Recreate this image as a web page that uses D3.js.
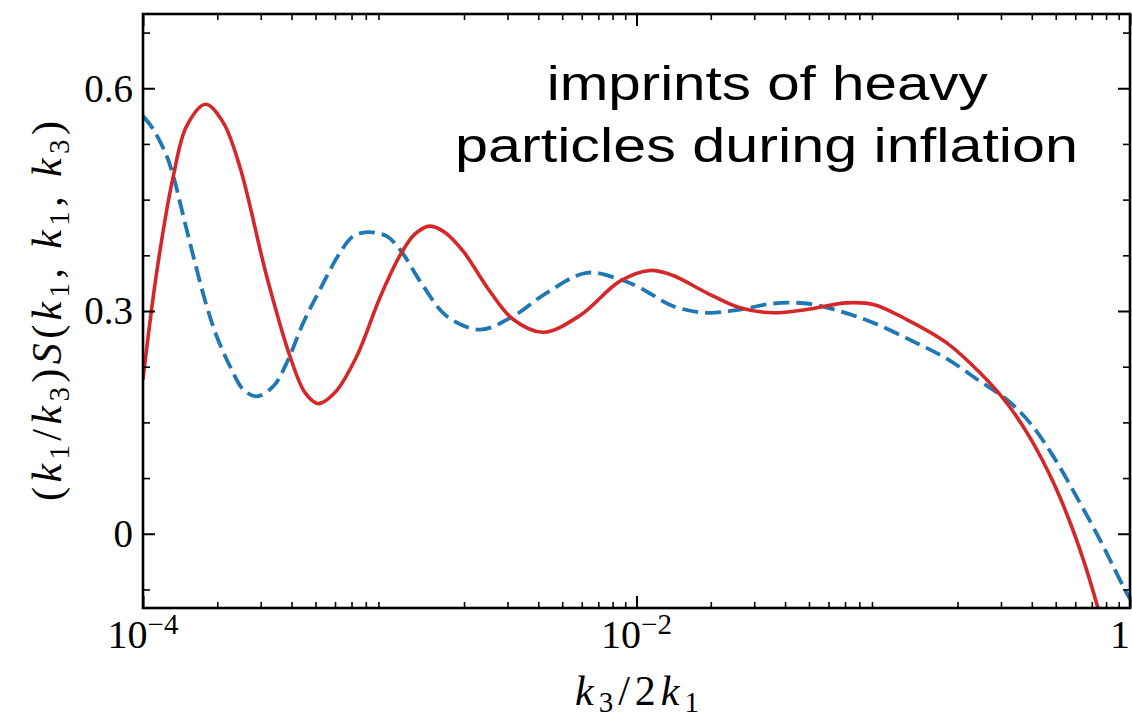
<!DOCTYPE html>
<html>
<head>
<meta charset="utf-8">
<script src="https://cdn.jsdelivr.net/npm/d3@7"></script>
<style>
  html, body { margin: 0; padding: 0; background: #ffffff; }
  svg { display: block; }
</style>
</head>
<body>
<svg id="chart" width="1132" height="717"></svg>
<script>
// ---- data ----
const redX = [1.00e-4, 1.136e-4, 1.327e-4, 1.503e-4, 1.795e-4, 2.115e-4, 2.472e-4, 3.171e-4, 3.942e-4, 4.535e-4,
  5.133e-4, 6.000e-4, 7.346e-4, 9.13e-4, 1.100e-3, 1.266e-3, 1.456e-3, 1.675e-3, 1.987e-3, 2.549e-3,
  3.168e-3, 4.192e-3, 5.902e-3, 8.574e-3, 1.134e-2, 1.406e-2, 1.925e-2, 2.627e-2, 3.584e-2, 4.894e-2,
  7.111e-2, 9.114e-2, 0.1245, 0.1808, 0.2467, 0.3165, 0.3932, 0.4889, 0.5712, 0.6467, 0.7328, 0.7920];
const redY = [0.2076, 0.3519, 0.4817, 0.5491, 0.5784, 0.5537, 0.4935, 0.3469, 0.2390, 0.1901,
  0.1753, 0.1901, 0.2390, 0.3182, 0.3748, 0.4038, 0.4143, 0.4058, 0.3802, 0.3263,
  0.2885, 0.2714, 0.2940, 0.3402, 0.3546, 0.3479, 0.3245, 0.3043, 0.2976, 0.3020,
  0.3110, 0.3088, 0.2885, 0.2571, 0.2167, 0.1761, 0.1294, 0.0692, 0.0155, -0.0349, -0.0938, -0.1348];

const blueX = [1.00e-4, 1.101e-4, 1.248e-4, 1.327e-4, 1.457e-4, 1.599e-4, 1.812e-4, 1.989e-4, 2.252e-4, 2.550e-4,
  2.889e-4, 3.374e-4, 3.823e-4, 4.463e-4, 5.216e-4, 6.286e-4, 7.116e-4, 8.187e-4, 9.719e-4, 1.100e-3,
  1.368e-3, 1.702e-3, 2.321e-3, 3.168e-3, 4.327e-3, 6.284e-3, 8.574e-3, 1.033e-2, 1.410e-2, 1.925e-2,
  2.627e-2, 3.584e-2, 4.894e-2, 6.677e-2, 9.114e-2, 0.1324, 0.1808, 0.2467, 0.3165, 0.3932,
  0.4889, 0.6273, 0.7557, 0.8556, 0.9697, 1.0];
const blueY = [0.5626, 0.5447, 0.5087, 0.4817, 0.4278, 0.3739, 0.3065, 0.2660, 0.2256, 0.1941,
  0.1851, 0.1986, 0.2301, 0.2841, 0.3290, 0.3785, 0.4008, 0.4062, 0.4008, 0.3829,
  0.3334, 0.2930, 0.2750, 0.2930, 0.3245, 0.3515, 0.3425, 0.3313, 0.3065, 0.2976,
  0.3020, 0.3101, 0.3101, 0.2997, 0.2841, 0.2589, 0.2359, 0.2053, 0.1807, 0.1493,
  0.1042, 0.0414, -0.0081, -0.0441, -0.0800, -0.0876];

const xMajorTicks = [1e-4, 1e-2, 1];
const xMajorLabels = [["10", "\u22124"], ["10", "\u22122"], ["1", ""]];
const xMinorMultipliers = [2, 3, 4, 5, 6, 7, 8, 9];
const xMinorDecades = [1e-4, 1e-3, 1e-2, 1e-1];
const yMajorTicks = [0, 0.3, 0.6];
const yMajorLabels = ["0", "0.3", "0.6"];
const yMinorTicks = [-0.075, 0.075, 0.15, 0.225, 0.375, 0.45, 0.525, 0.675];
const titleLines = ["imprints of heavy", "particles during inflation"];

// ---- layout ----
const L = 143, R = 1130, T = 14, B = 608;
const svg = d3.select("#chart");

const x = d3.scaleLog().domain([1e-4, 1]).range([L, R]);
const y = d3.scaleLinear().domain([-0.1, 0.7]).range([B, T]);

const xMinorTicks = [];
xMinorDecades.forEach(d => xMinorMultipliers.forEach(m => xMinorTicks.push(m * d)));

// clip
svg.append("defs").append("clipPath").attr("id", "plotclip")
  .append("rect").attr("x", L).attr("y", T).attr("width", R - L).attr("height", B - T);

// curves
const line = d3.line().x(d => x(d[0])).y(d => y(d[1])).curve(d3.curveCatmullRom.alpha(0.5));
const plot = svg.append("g").attr("clip-path", "url(#plotclip)");
plot.append("path")
  .datum(blueX.map((v, i) => [v, blueY[i]]))
  .attr("d", line).attr("fill", "none")
  .attr("stroke", "#1f77b4").attr("stroke-width", 3.8)
  .attr("stroke-dasharray", "16,7");
plot.append("path")
  .datum(redX.map((v, i) => [v, redY[i]]))
  .attr("d", line).attr("fill", "none")
  .attr("stroke", "#d62728").attr("stroke-width", 3.6);

// axes (ticks pointing inward)
function styleAxis(g, w) {
  g.select(".domain").remove();
  g.selectAll(".tick line").attr("stroke", "#000").attr("stroke-width", w);
  g.selectAll(".tick text").remove();
}
const ax = [
  [d3.axisBottom(x).tickValues(xMajorTicks).tickSize(-12), `translate(0,${B})`, 2],
  [d3.axisBottom(x).tickValues(xMinorTicks).tickSize(-6), `translate(0,${B})`, 1.6],
  [d3.axisTop(x).tickValues(xMajorTicks).tickSize(-12), `translate(0,${T})`, 2],
  [d3.axisTop(x).tickValues(xMinorTicks).tickSize(-6), `translate(0,${T})`, 1.6],
  [d3.axisLeft(y).tickValues(yMajorTicks).tickSize(-12), `translate(${L},0)`, 2],
  [d3.axisLeft(y).tickValues(yMinorTicks).tickSize(-7), `translate(${L},0)`, 1.6],
  [d3.axisRight(y).tickValues(yMajorTicks).tickSize(-12), `translate(${R},0)`, 2],
  [d3.axisRight(y).tickValues(yMinorTicks).tickSize(-7), `translate(${R},0)`, 1.6]
];
ax.forEach(([a, tr, w]) => {
  svg.append("g").attr("transform", tr).call(a).call(g => styleAxis(g, w));
});

// frame
svg.append("rect").attr("x", L).attr("y", T).attr("width", R - L).attr("height", B - T)
  .attr("fill", "none").attr("stroke", "#000").attr("stroke-width", 2.6);

const serif = "'Liberation Serif', 'DejaVu Serif', serif";

// y tick labels
svg.append("g").selectAll("text").data(yMajorTicks).join("text")
  .attr("x", L - 10).attr("y", d => y(d)).attr("dy", "0.34em")
  .attr("text-anchor", "end").attr("font-family", serif).attr("font-size", 39)
  .text((d, i) => yMajorLabels[i]);

// x tick labels
const xl = svg.append("g").selectAll("text").data(xMajorTicks).join("text")
  .attr("x", d => Math.min(x(d), 1120)).attr("y", 648)
  .attr("text-anchor", "middle").attr("font-family", serif).attr("font-size", 40);
xl.each(function(d, i) {
  const t = d3.select(this);
  t.append("tspan").text(xMajorLabels[i][0]);
  if (xMajorLabels[i][1]) {
    t.append("tspan").attr("dy", -14).attr("font-size", 29).text(xMajorLabels[i][1]);
  }
});

// math label helper
function mathLabel(sel, parts, sub) {
  parts.forEach(p => {
    const ts = sel.append("tspan").text(p.t);
    if (p.i) ts.attr("font-style", "italic");
    if (p.s) ts.attr("font-size", 29).attr("dy", sub);
    if (p.after) ts.attr("dy", -sub);
  });
}

// x axis label
const xlab = svg.append("text").attr("x", 637).attr("y", 705)
  .attr("text-anchor", "middle").attr("font-family", serif).attr("font-size", 42)
  .attr("textLength", 124).attr("lengthAdjust", "spacing");
mathLabel(xlab, [
  {t: "k", i: 1}, {t: "3", s: 1}, {t: "/2", after: 1}, {t: "k", i: 1}, {t: "1", s: 1}
], 7);

// y axis label
const ylab = svg.append("text").attr("transform", "translate(61,311) rotate(-90)")
  .attr("text-anchor", "middle").attr("font-family", serif).attr("font-size", 42)
  .attr("textLength", 380).attr("lengthAdjust", "spacing");
mathLabel(ylab, [
  {t: "("}, {t: "k", i: 1}, {t: "1", s: 1}, {t: "/", after: 1}, {t: "k", i: 1}, {t: "3", s: 1},
  {t: ")", after: 1}, {t: "S", i: 1}, {t: "("}, {t: "k", i: 1}, {t: "1", s: 1}, {t: ", ", after: 1},
  {t: "k", i: 1}, {t: "1", s: 1}, {t: ", ", after: 1}, {t: "k", i: 1}, {t: "3", s: 1}, {t: ")", after: 1}
], 8);

// annotation
const sans = "'Liberation Sans', Arial, Helvetica, sans-serif";
const titleX = [546.7, 455];
const titleY = [100, 162];
const titleW = [441, 623];
svg.append("g").selectAll("text").data(titleLines).join("text")
  .attr("x", (d, i) => titleX[i]).attr("y", (d, i) => titleY[i])
  .attr("font-family", sans).attr("font-size", 48)
  .attr("textLength", (d, i) => titleW[i]).attr("lengthAdjust", "spacingAndGlyphs")
  .attr("fill", "#000")
  .text(d => d);
</script>
</body>
</html>
